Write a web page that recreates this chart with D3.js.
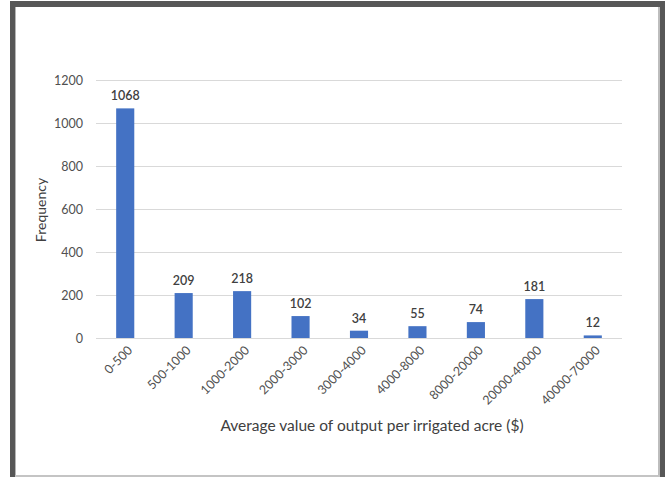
<!DOCTYPE html>
<html>
<head>
<meta charset="utf-8">
<script src="https://cdn.jsdelivr.net/npm/d3@7"></script>
<style>
  html, body { margin: 0; padding: 0; background: #fff; }
  svg { display: block; }
</style>
</head>
<body>
<svg id="chart" width="665" height="477"></svg>
<script>
// Histogram data: value-of-output bins and their frequencies
const categories = ["0-500", "500-1000", "1000-2000", "2000-3000", "3000-4000",
                    "4000-8000", "8000-20000", "20000-40000", "40000-70000"];
const frequencies = [1068, 209, 218, 102, 34, 55, 74, 181, 12];
const yTicks = [0, 200, 400, 600, 800, 1000, 1200];

const font = "Lato, 'Open Sans', sans-serif";
const svg = d3.select("#chart");

// Outer frame: dark border on top, left and right, thin light line at the bottom
const frame = svg.append("g");
frame.append("rect").attr("x", 10).attr("y", 1).attr("width", 655).attr("height", 6).attr("fill", "#575757");
frame.append("rect").attr("x", 10).attr("y", 1).attr("width", 5).attr("height", 476).attr("fill", "#575757");
frame.append("rect").attr("x", 660).attr("y", 1).attr("width", 5).attr("height", 476).attr("fill", "#575757");
frame.append("rect").attr("x", 15).attr("y", 7).attr("width", 1).attr("height", 470).attr("fill", "#b5b5b5");
frame.append("rect").attr("x", 658).attr("y", 7).attr("width", 2).attr("height", 470).attr("fill", "#bdbdbd");
frame.append("rect").attr("x", 15).attr("y", 475).attr("width", 645).attr("height", 2).attr("fill", "#c4c4c4");

const plotLeft = 96, plotRight = 622, plotTop = 80, plotBottom = 338;

const x = d3.scaleBand().domain(categories).range([plotLeft, plotRight]).paddingInner(0.69).paddingOuter(0.345);
const y = d3.scaleLinear().domain([0, 1200]).range([plotBottom, plotTop]);

// Horizontal gridlines with value labels on the left
const yAxis = d3.axisLeft(y).tickValues(yTicks).tickFormat(d3.format("d"))
  .tickSize(-(plotRight - plotLeft)).tickPadding(13);
const gy = svg.append("g").attr("transform", `translate(${plotLeft},0)`).call(yAxis);
gy.select(".domain").remove();
gy.selectAll(".tick line").attr("stroke", "#d9d9d9").attr("stroke-width", 1);
gy.selectAll(".tick text").attr("fill", "#505050").attr("font-family", font).attr("font-size", 12.5);

// Bars
svg.append("g").selectAll("rect").data(frequencies).join("rect")
  .attr("x", (d, i) => x(categories[i]))
  .attr("y", d => y(d))
  .attr("width", x.bandwidth())
  .attr("height", d => y(0) - y(d))
  .attr("fill", "#4472c4");

// Value labels above the bars
svg.append("g").selectAll("text").data(frequencies).join("text")
  .attr("x", (d, i) => x(categories[i]) + x.bandwidth() / 2)
  .attr("y", d => y(d) - 8)
  .attr("text-anchor", "middle")
  .attr("font-family", font).attr("font-size", 12.5).attr("font-weight", 600)
  .attr("fill", "#404040")
  .text(d => d);

// Category axis with rotated labels
const xAxis = d3.axisBottom(x).tickSize(0).tickPadding(0);
const gx = svg.append("g").attr("transform", `translate(0,${plotBottom})`).call(xAxis);
gx.select(".domain").attr("stroke", "#d9d9d9").attr("d", `M${plotLeft},0.5H${plotRight}`);
gx.selectAll(".tick text")
  .attr("fill", "#505050").attr("font-family", font).attr("font-size", 12.5)
  .attr("text-anchor", "end")
  .attr("dy", null).attr("y", 0)
  .attr("transform", "translate(8,13) rotate(-45)");

// Axis titles
svg.append("text")
  .attr("x", 372).attr("y", 431)
  .attr("text-anchor", "middle")
  .attr("font-family", font).attr("font-size", 15.5)
  .attr("fill", "#404040")
  .text("Average value of output per irrigated acre ($)");

svg.append("text")
  .attr("transform", "translate(46,210) rotate(-90)")
  .attr("text-anchor", "middle")
  .attr("font-family", font).attr("font-size", 14)
  .attr("fill", "#404040")
  .text("Frequency");
</script>
</body>
</html>
